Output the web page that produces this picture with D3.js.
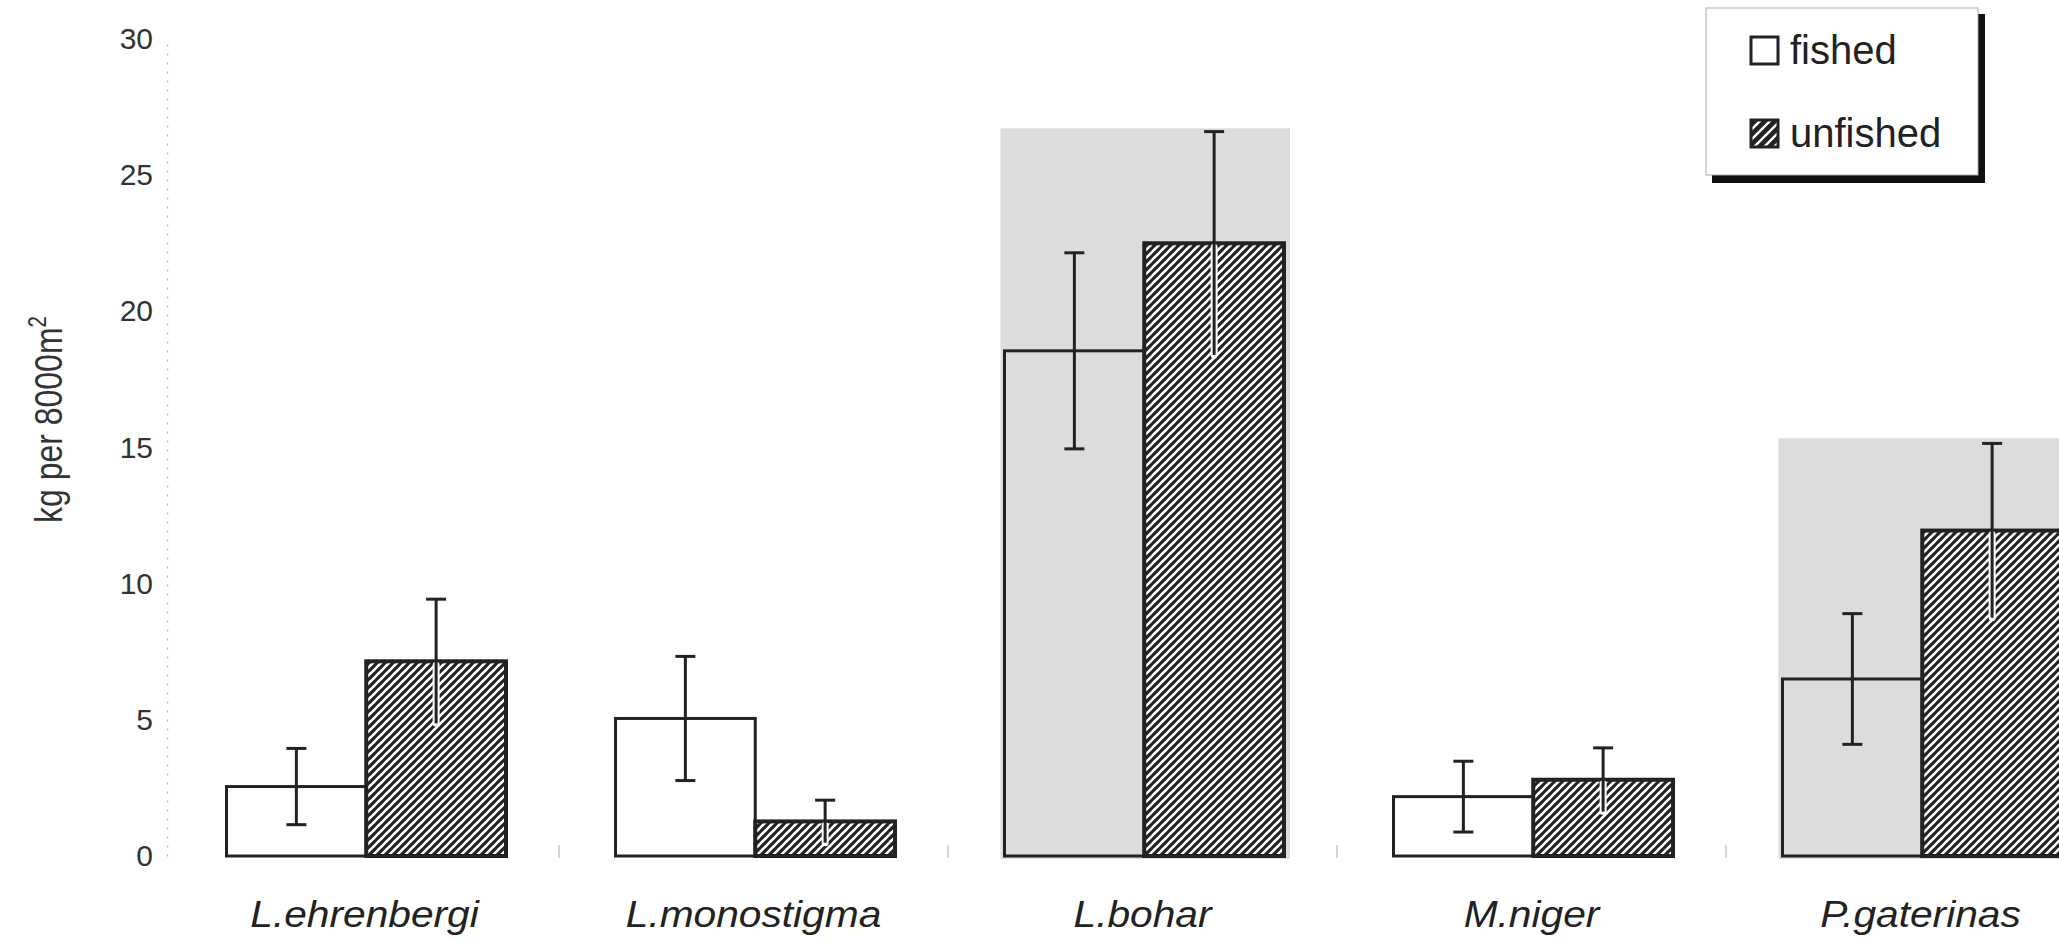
<!DOCTYPE html>
<html>
<head>
<meta charset="utf-8">
<script src="https://cdn.jsdelivr.net/npm/d3@7"></script>
<style>
  html, body { margin: 0; padding: 0; background: #fff; }
  svg { display: block; }
  text { font-family: "Liberation Sans", Arial, Helvetica, sans-serif; }
</style>
</head>
<body>
<svg id="chart" width="2059" height="941"></svg>
<script>
// Species and biomass (kg per 8000 m²) in fished vs unfished reefs
const categories = ["L.ehrenbergi", "L.monostigma", "L.bohar", "M.niger", "P.gaterinas"];
const series = ["fished", "unfished"];
const fishedMean = [2.55, 5.05, 18.55, 2.18, 6.5];
const fishedSE = [1.4, 2.28, 3.6, 1.3, 2.4];
const unfishedMean = [7.15, 1.27, 22.5, 2.8, 11.95];
const unfishedSE = [2.28, 0.78, 4.1, 1.17, 3.2];
const yTicks = [0, 5, 10, 15, 20, 25, 30];
// species shaded with a grey panel, and the panel top in data units
const highlighted = ["L.bohar", "P.gaterinas"];
const highlightTop = [26.72, 15.34];

const ink = "#222";
const svg = d3.select("#chart");

const x0 = d3.scaleBand().domain(categories).range([170, 2115]);
const x1 = d3.scaleBand().domain(series).range([56.5, 336]);
const y = d3.scaleLinear().domain([0, 30]).range([856, 39]);
const bw = x1.bandwidth();

// hatch patterns
const P = 8;
const defs = svg.append("defs");
const hatch = defs.append("pattern").attr("id", "hatch")
  .attr("patternUnits", "userSpaceOnUse").attr("width", P).attr("height", P);
hatch.append("rect").attr("width", P).attr("height", P).attr("fill", "#fff");
hatch.append("path").attr("d", `M-1,1 l2,-2 M0,${P} l${P},-${P} M${P - 1},${P + 1} l2,-2`)
  .attr("stroke", ink).attr("stroke-width", 3.1);

const hatchKey = defs.append("pattern").attr("id", "hatchKey")
  .attr("patternUnits", "userSpaceOnUse").attr("width", 10).attr("height", 10);
hatchKey.append("rect").attr("width", 10).attr("height", 10).attr("fill", ink);
hatchKey.append("path").attr("d", "M-1,1 l2,-2 M0,10 l10,-10 M9,11 l2,-2")
  .attr("stroke", "#fff").attr("stroke-width", 2.4);

// grey panels behind highlighted species
svg.append("g").selectAll("rect")
  .data(highlighted.map((c, i) => ({ c, top: highlightTop[i] })))
  .join("rect")
  .attr("x", d => x0(d.c) + x1.range()[0] - 4)
  .attr("width", d => 2 * bw + 10)
  .attr("y", d => y(d.top))
  .attr("height", d => y(0) + 3 - y(d.top))
  .attr("fill", "#dcdcdc");

// y axis
const yAxis = svg.append("g").attr("transform", "translate(167,0)")
  .call(d3.axisLeft(y).tickValues(yTicks).tickSize(0).tickPadding(14));
yAxis.select(".domain").attr("stroke", "#bbb").attr("stroke-width", 1.5)
  .attr("stroke-dasharray", "2,7");
yAxis.selectAll("text").attr("font-size", 30).attr("fill", "#333");

// category axis: labels centred under each pair, small ticks between groups
const xAxis = svg.append("g").attr("transform", `translate(0,${y(0)})`)
  .call(d3.axisBottom(x0).tickSize(0));
xAxis.select(".domain").remove();
xAxis.selectAll("text").attr("y", 71).attr("dy", 0)
  .attr("transform", "scale(1.1,1)")
  .attr("font-size", 37).attr("font-style", "italic").attr("fill", ink);
svg.append("g").selectAll("line").data(categories.slice(1)).join("line")
  .attr("x1", d => x0(d)).attr("x2", d => x0(d))
  .attr("y1", y(0) - 11).attr("y2", y(0) + 2)
  .attr("stroke", "#bbb").attr("stroke-width", 1.2);

// bars
const rows = categories.map((c, i) => ([
  { c, s: "fished", m: fishedMean[i], se: fishedSE[i] },
  { c, s: "unfished", m: unfishedMean[i], se: unfishedSE[i] }
])).flat();

svg.append("g").selectAll("rect").data(rows).join("rect")
  .attr("x", d => x0(d.c) + x1(d.s))
  .attr("width", bw)
  .attr("y", d => y(d.m))
  .attr("height", d => y(0) - y(d.m))
  .attr("fill", d => d.s === "fished" ? "none" : "url(#hatch)")
  .attr("stroke", ink)
  .attr("stroke-width", d => d.s === "fished" ? 3 : 4);

// error bars (± SE)
const eb = svg.append("g");
const cx = d => x0(d.c) + x1(d.s) + bw / 2;
const cap = 10;
// thin white margin where the lower whisker runs through the hatching
eb.selectAll("line.halo").data(rows.filter(d => d.s === "unfished")).join("line")
  .attr("class", "halo")
  .attr("x1", cx).attr("x2", cx)
  .attr("y1", d => y(d.m) + 4).attr("y2", d => y(d.m - d.se))
  .attr("stroke", "#fff").attr("stroke-width", 7).attr("stroke-linecap", "round");
eb.selectAll("line.stem").data(rows).join("line")
  .attr("class", "stem")
  .attr("x1", cx).attr("x2", cx)
  .attr("y1", d => y(d.m + d.se)).attr("y2", d => y(d.m - d.se))
  .attr("stroke", ink).attr("stroke-width", 3);
eb.selectAll("line.capTop").data(rows).join("line")
  .attr("class", "capTop")
  .attr("x1", d => cx(d) - cap).attr("x2", d => cx(d) + cap)
  .attr("y1", d => y(d.m + d.se)).attr("y2", d => y(d.m + d.se))
  .attr("stroke", ink).attr("stroke-width", 3);
eb.selectAll("line.capBot").data(rows.filter(d => d.s === "fished")).join("line")
  .attr("class", "capBot")
  .attr("x1", d => cx(d) - cap).attr("x2", d => cx(d) + cap)
  .attr("y1", d => y(d.m - d.se)).attr("y2", d => y(d.m - d.se))
  .attr("stroke", ink).attr("stroke-width", 3);

// y axis title
const yt = svg.append("text")
  .attr("transform", "translate(62,523) rotate(-90) scale(0.82,1)")
  .attr("font-size", 39).attr("fill", "#333");
yt.append("tspan").text("kg per 8000m");
yt.append("tspan").attr("font-size", 25).attr("dy", -16).text("2");

// legend with drop shadow
const lg = svg.append("g");
lg.append("rect").attr("x", 1712).attr("y", 14).attr("width", 273).attr("height", 169).attr("fill", "#111");
lg.append("rect").attr("x", 1706).attr("y", 8).attr("width", 272).attr("height", 167)
  .attr("fill", "#fff").attr("stroke", "#aaa").attr("stroke-width", 1);
const keys = lg.selectAll("g").data(series).join("g")
  .attr("transform", (d, i) => `translate(1751,${37 + i * 83})`);
keys.append("rect").attr("width", 27).attr("height", 27)
  .attr("fill", d => d === "fished" ? "#fff" : "url(#hatchKey)")
  .attr("stroke", ink).attr("stroke-width", 3);
keys.append("text").attr("x", 39).attr("y", 27)
  .attr("font-size", 40).attr("fill", ink).text(d => d);
</script>
</body>
</html>
